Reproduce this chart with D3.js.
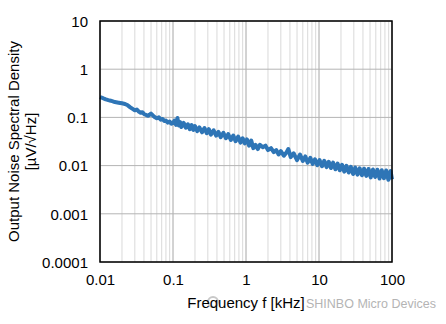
<!DOCTYPE html>
<html>
<head>
<meta charset="utf-8">
<script src="https://cdn.jsdelivr.net/npm/d3@7"></script>
<style>
  body { margin: 0; background: #fff; }
  svg { display: block; font-family: 'Liberation Sans', Arial, sans-serif; }
</style>
</head>
<body>
<div class="canvas"></div>
<script>
// data
const freq = [
  0.010, 0.011, 0.012, 0.013, 0.014, 0.015, 0.016, 0.018, 0.020, 0.022,
  0.024, 0.026, 0.028, 0.030, 0.032, 0.034, 0.036, 0.038, 0.040, 0.043,
  0.046, 0.050, 0.053, 0.056, 0.060, 0.064, 0.068, 0.072, 0.076, 0.080,
  0.085, 0.090, 0.095, 0.100, 0.105, 0.110, 0.115, 0.120, 0.125, 0.130,
  0.140, 0.150, 0.160, 0.170, 0.180, 0.190, 0.200, 0.215, 0.230, 0.250,
  0.270, 0.290, 0.310, 0.330, 0.360, 0.390, 0.420, 0.450, 0.490, 0.530,
  0.570, 0.620, 0.670, 0.720, 0.780, 0.840, 0.900, 0.960, 1.03, 1.10,
  1.18, 1.26, 1.35, 1.45, 1.55, 1.70, 1.85, 2.00, 2.20, 2.40,
  2.60, 2.80, 3.00, 3.30, 3.60, 3.80, 4.10, 4.50, 5.00, 5.50,
  6.00, 6.50, 7.00, 7.60, 8.20, 8.80, 9.50, 10.2, 11.0, 11.8,
  12.7, 13.6, 14.6, 15.6, 16.8, 18.0, 19.3, 20.7, 22.2, 23.8,
  25.5, 27.3, 29.3, 31.4, 33.7, 36.1, 38.7, 41.5, 44.5, 47.7,
  51.1, 54.8, 58.8, 63.0, 67.5, 72.4, 77.6, 83.2, 89.2, 95.6, 100
];
const noise = [
  0.265, 0.250, 0.236, 0.228, 0.222, 0.215, 0.208, 0.202, 0.196, 0.190,
  0.178, 0.162, 0.150, 0.140, 0.146, 0.132, 0.125, 0.128, 0.118, 0.112,
  0.108, 0.120, 0.110, 0.102, 0.096, 0.100, 0.090, 0.093, 0.084, 0.086,
  0.078, 0.082, 0.074, 0.077, 0.086, 0.070, 0.097, 0.068, 0.080, 0.063,
  0.077, 0.061, 0.072, 0.057, 0.069, 0.055, 0.066, 0.052, 0.062, 0.049,
  0.060, 0.047, 0.057, 0.044, 0.054, 0.042, 0.050, 0.039, 0.048, 0.037,
  0.045, 0.034, 0.042, 0.032, 0.040, 0.030, 0.037, 0.029, 0.035, 0.026,
  0.033, 0.023, 0.027, 0.022, 0.027, 0.024, 0.026, 0.021, 0.023, 0.019,
  0.021, 0.017, 0.020, 0.016, 0.019, 0.022, 0.015, 0.018, 0.013, 0.017,
  0.0125, 0.0155, 0.0115, 0.0145, 0.0108, 0.0135, 0.0102, 0.0130, 0.0097, 0.0126,
  0.0093, 0.0120, 0.0089, 0.0115, 0.0084, 0.0110, 0.0080, 0.0104, 0.0075, 0.0099,
  0.0072, 0.0094, 0.0067, 0.0091, 0.0065, 0.0088, 0.0063, 0.0086, 0.0061, 0.0085,
  0.0057, 0.0083, 0.0058, 0.0082, 0.0054, 0.0080, 0.0055, 0.0079, 0.0051, 0.0077, 0.0052
];
const xTicks = [0.01, 0.1, 1, 10, 100];
const yTicks = [0.0001, 0.001, 0.01, 0.1, 1, 10];
const xTickLabels = ['0.01', '0.1', '1', '10', '100'];
const yTickLabels = ['0.0001', '0.001', '0.01', '0.1', '1', '10'];

const dims = {
  width: 446,
  height: 324,
  left: 100,
  top: 21,
  right: 392,
  bottom: 262,
  fontSize: '15px'
};

const svg = d3.select('.canvas')
  .append('svg')
  .attr('width', dims.width)
  .attr('height', dims.height);

const x = d3.scaleLog().domain([0.01, 100]).range([dims.left, dims.right]);
const y = d3.scaleLog().domain([0.0001, 10]).range([dims.bottom, dims.top]);

// minor x gridlines (2..9 of each decade)
const minor = [];
[0.01, 0.1, 1, 10].forEach((d) => {
  for (let k = 2; k <= 9; k++) minor.push(d * k);
});

svg.append('g')
  .selectAll('line')
  .data(minor)
  .enter()
  .append('line')
  .attr('x1', (d) => x(d))
  .attr('x2', (d) => x(d))
  .attr('y1', dims.top)
  .attr('y2', dims.bottom)
  .attr('stroke', '#d9d9d9')
  .attr('stroke-width', 1);

// major gridlines
svg.append('g')
  .selectAll('line')
  .data(xTicks)
  .enter()
  .append('line')
  .attr('x1', (d) => x(d))
  .attr('x2', (d) => x(d))
  .attr('y1', dims.top)
  .attr('y2', dims.bottom)
  .attr('stroke', '#a6a6a6')
  .attr('stroke-width', 1);

svg.append('g')
  .selectAll('line')
  .data(yTicks)
  .enter()
  .append('line')
  .attr('x1', dims.left)
  .attr('x2', dims.right)
  .attr('y1', (d) => y(d))
  .attr('y2', (d) => y(d))
  .attr('stroke', '#b4b4b4')
  .attr('stroke-width', 1);

// the curve
const data = freq.map((f, i) => ({ f: f, v: noise[i] }));
const line = d3.line()
  .x((d) => x(d.f))
  .y((d) => y(d.v));

svg.append('path')
  .datum(data)
  .attr('d', line)
  .attr('fill', 'none')
  .attr('stroke', '#2e75b6')
  .attr('stroke-width', 4)
  .attr('stroke-linejoin', 'round');

// frame
svg.append('rect')
  .attr('x', dims.left)
  .attr('y', dims.top)
  .attr('width', dims.right - dims.left)
  .attr('height', dims.bottom - dims.top)
  .attr('fill', 'none')
  .attr('stroke', '#000')
  .attr('stroke-width', 1.5);

// axes
const xAxis = d3.axisBottom(x)
  .tickValues(xTicks)
  .tickFormat((d, i) => xTickLabels[i])
  .tickSize(0)
  .tickPadding(12);
const yAxis = d3.axisLeft(y)
  .tickValues(yTicks)
  .tickFormat((d, i) => yTickLabels[i])
  .tickSize(0)
  .tickPadding(12);

const xAxisGroup = svg.append('g')
  .attr('transform', `translate(0, ${dims.bottom})`)
  .call(xAxis);
const yAxisGroup = svg.append('g')
  .attr('transform', `translate(${dims.left}, 0)`)
  .call(yAxis);

[xAxisGroup, yAxisGroup].forEach((g) => {
  g.select('path.domain').attr('stroke', 'none');
  g.selectAll('text')
    .attr('fill', '#000')
    .attr('font-family', "'Liberation Sans', Arial, sans-serif")
    .attr('font-size', dims.fontSize);
});
yAxisGroup.selectAll('text').attr('dy', '0.35em');

// watermark
svg.append('circle')
  .attr('cx', 213)
  .attr('cy', 302)
  .attr('r', 5)
  .attr('fill', 'none')
  .attr('stroke', '#c8c8c8')
  .attr('stroke-width', 2);
svg.append('text')
  .attr('x', 306)
  .attr('y', 308)
  .attr('fill', '#b4b4b4')
  .attr('font-size', '12.5px')
  .text('SHINBO Micro Devices');

// axis titles
svg.append('text')
  .attr('x', (dims.left + dims.right) / 2)
  .attr('y', 308)
  .attr('text-anchor', 'middle')
  .attr('font-size', dims.fontSize)
  .attr('fill', '#000')
  .text('Frequency f [kHz]');

const yTitle = svg.append('text')
  .attr('transform', `translate(0, ${(dims.top + dims.bottom) / 2}) rotate(-90)`)
  .attr('text-anchor', 'middle')
  .attr('font-size', dims.fontSize)
  .attr('fill', '#000');
yTitle.append('tspan').attr('x', 0).attr('y', 19).text('Output Noise Spectral Density');
yTitle.append('tspan').attr('x', 0).attr('y', 36).text('[µV/√Hz]');
</script>
</body>
</html>
